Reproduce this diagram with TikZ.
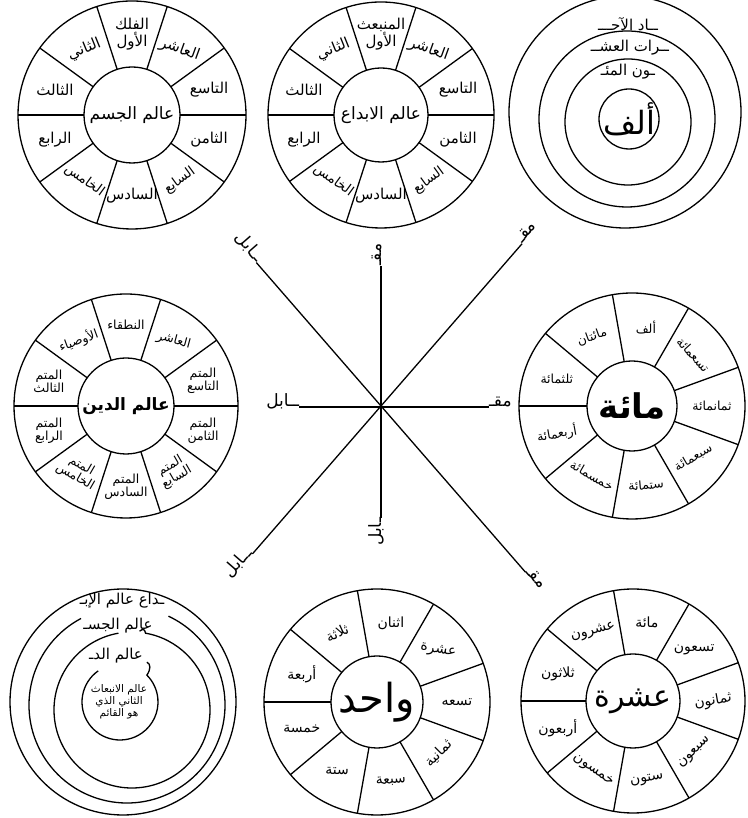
\documentclass[tikz,border=0pt]{standalone}
\usepackage{fontspec}
\newfontfamily\arabicfont[Script=Arabic]{DejaVu Sans}
\TeXXeTstate=1
\usetikzlibrary{calc}
\newcommand{\arb}[1]{{\arabicfont\beginR #1\endR}}
\begin{document}
\begin{tikzpicture}[x=1pt,y=1pt,line width=1.3pt,
  every node/.style={inner sep=0pt,outer sep=0pt},
  disc/.style={circle,draw,line width=1.3pt,minimum size=#1},
  lab/.style={font=\fontsize{15}{17}\selectfont,align=center},
  labn/.style={font=\fontsize{14}{16}\selectfont,align=center},
  lab2/.style={font=\fontsize{12.5}{13}\selectfont,align=center},
  hubtext/.style={font=\fontsize{#1}{#1}\selectfont},
  crosslab/.style={font=\fontsize{17}{17}\selectfont}]
\useasboundingbox (0,0) rectangle (747,818);
\fill[white] (0,0) rectangle (747,818);

% ---------- top-left wheel: alam al-jism
\node[disc=228pt] (w1o) at (132,703) {};
\node[disc=96pt] (w1) at (132,703) {};
\node[hubtext=17] (w1t) at (w1) {\arb{عالم الجسم}};
\foreach \a in {0,36,...,324} \draw (w1.\a) -- (w1o.\a);
\foreach \a/\r/\s/\t in {90/0/15/{\arb{الفلك}\\\arb{الأول}},54/-20/15/{\arb{العاشر}},18/0/15/{\arb{التاسع}},-18/0/15/{\arb{الثامن}},-54/36/13.5/{\arb{السابع}},-90/0/15/{\arb{السادس}},-126/-36/13.5/{\arb{الخامس}},-162/0/15/{\arb{الرابع}},162/0/15/{\arb{الثالث}},126/22/15/{\arb{الثاني}}}
  \node[align=center,font=\fontsize{\s}{17}\selectfont,rotate=\r] (w1l\a) at ($(w1)+(\a:81)$) {\t};

% ---------- top-middle wheel: alam al-ibda
\node[disc=226pt] (w2o) at (381,703) {};
\node[disc=94pt] (w2) at (381,703) {};
\node[hubtext=17] (w2t) at (w2) {\arb{عالم الابداع}};
\foreach \a in {0,36,...,324} \draw (w2.\a) -- (w2o.\a);
\foreach \a/\r/\s/\t in {90/0/15/{\arb{المنبعث}\\\arb{الأول}},54/-20/15/{\arb{العاشر}},18/0/15/{\arb{التاسع}},-18/0/15/{\arb{الثامن}},-54/36/13.5/{\arb{السابع}},-90/0/15/{\arb{السادس}},-126/-36/13.5/{\arb{الخامس}},-162/0/15/{\arb{الرابع}},162/0/15/{\arb{الثالث}},126/22/15/{\arb{الثاني}}}
  \node[align=center,font=\fontsize{\s}{17}\selectfont,rotate=\r] (w2l\a) at ($(w2)+(\a:81)$) {\t};

% ---------- top-right rings
\coordinate (r1) at (625,706);
\coordinate (r2) at (627,699);
\coordinate (r3) at (628,696);
\draw (r1) circle[radius=116];
\draw (r2) circle[radius=88];
\draw (r3) circle[radius=63];
\node[disc=60pt] (alf) at (629,699) {};
\node[hubtext=32] (alft) at (alf) {\arb{ألف}};
\node[lab] (ra1) at (628,794) {\arb{ــاد الآحـــ}};
\node[lab] (ra2) at (630,770) {\arb{ــرات العشــ}};
\node[lab] (ra3) at (628,746) {\arb{ـون المئـ}};

% ---------- middle-left wheel: alam al-din
\node[disc=224pt] (w3o) at (126,412) {};
\node[disc=96pt] (w3) at (126,412) {};
\node[hubtext=17] (w3t) at (w3) {\bfseries\arb{عالم الدين}};
\foreach \a in {0,36,...,324} \draw (w3.\a) -- (w3o.\a);
\foreach \a/\r/\t in {90/0/{\arb{النطقاء}},54/-15/{\arb{العاشر}},18/0/{\arb{المتم}\\\arb{التاسع}},-18/0/{\arb{المتم}\\\arb{الثامن}},-54/30/{\arb{المتم}\\\arb{السابع}},-90/0/{\arb{المتم}\\\arb{السادس}},-126/-30/{\arb{المتم}\\\arb{الخامس}},-162/0/{\arb{المتم}\\\arb{الرابع}},162/0/{\arb{المتم}\\\arb{الثالث}},126/20/{\arb{الأوصياء}}}
  \node[lab2,rotate=\r] (w3l\a) at ($(w3)+(\a:81)$) {\t};

% ---------- middle-right wheel: mi'a
\node[disc=226pt] (w4o) at (632,412) {};
\node[disc=90pt] (w4) at (632,412) {};
\node[hubtext=34] (w4t) at (w4) {\bfseries\arb{مائة}};
\foreach \a in {20,60,...,340} \draw (w4.\a) -- (w4o.\a);
\foreach \a/\r/\t in {80/0/{\arb{ألف}},40/-48/{\arb{تسعمائة}},0/0/{\arb{ثمانمائة}},-40/30/{\arb{سبعمائة}},-80/5/{\arb{ستمائة}},-120/-30/{\arb{خمسمائة}},-160/10/{\arb{أربعمائة}},160/0/{\arb{ثلثمائة}},120/20/{\arb{مائتان}}}
  \node[lab2,rotate=\r] (w4l\a) at ($(w4)+(\a:80)$) {\t};

% ---------- bottom-left rings
\coordinate (b1) at (123,116);
\coordinate (b2) at (127,113);
\coordinate (b3) at (132,108);
\coordinate (b4) at (120,116);
\draw (b1) circle[radius=113];
\draw ($(b2)+(118:98)$) arc[start angle=118,end angle=425,radius=98];
\draw ($(b3)+(100:78)$) arc[start angle=100,end angle=440,radius=78]
   .. controls +(-1,4) and +(4,3) .. ++(-6,2);
\draw ($(b4)+(125:38)$) arc[start angle=125,end angle=405,radius=38]
   .. controls +(4,6) and +(4,-2) .. ++(0,13);
\node[lab] (bt1) at (122,217) {\arb{ـداع عالم الإبـ}};
\node[lab] (bt2) at (118,192) {\arb{عالم الجسـ}};
\node[lab] (bt3) at (116,162) {\arb{عالم الدـ}};
\node[font=\fontsize{10.5}{12}\selectfont,align=center] (bt4) at (119,116) {\arb{عالم الانبعاث}\\\arb{الثاني الذي}\\\arb{هو القائم}};

% ---------- bottom-middle wheel: wahid
\node[disc=226pt] (w5o) at (377,116) {};
\node[disc=92pt] (w5) at (377,116) {};
\node[hubtext=40] (w5t) at (w5) {\arb{واحد}};
\foreach \a in {20,60,...,340} \draw (w5.\a) -- (w5o.\a);
\foreach \a/\r/\t in {80/0/{\arb{اثنان}},40/-10/{\arb{عشرة}},0/0/{\arb{تسعه}},-40/45/{\arb{ثمانية}},-80/5/{\arb{سبعة}},-120/0/{\arb{ستة}},-160/0/{\arb{خمسة}},160/0/{\arb{أربعة}},120/25/{\arb{ثلاثة}}}
  \node[labn,rotate=\r] (w5l\a) at ($(w5)+(\a:80)$) {\t};

% ---------- bottom-right wheel: ashara
\node[disc=224pt] (w6o) at (633,117) {};
\node[disc=94pt] (w6) at (633,117) {};
\node[hubtext=30] (w6t) at (w6) {\arb{عشرة}};
\foreach \a in {20,60,...,340} \draw (w6.\a) -- (w6o.\a);
\foreach \a/\r/\t in {80/0/{\arb{مائة}},40/0/{\arb{تسعون}},0/10/{\arb{ثمانون}},-40/45/{\arb{سبعون}},-80/10/{\arb{ستون}},-120/-35/{\arb{خمسون}},-160/0/{\arb{أربعون}},160/0/{\arb{ثلاثون}},120/15/{\arb{عشرون}}}
  \node[labn,rotate=\r] (w6l\a) at ($(w6)+(\a:80)$) {\t};

% ---------- central cross (muqabil)
\coordinate (O) at (381,412);
\node[crosslab,anchor=base east] (hL) at ($(O)+(-82,-1)$) {\arb{ــابل}};
\node[crosslab,anchor=base west] (hR) at ($(O)+(108,-1)$) {\arb{مقـ}};
\draw (hL.base east) -- (hR.base west);
\node[crosslab,rotate=49,anchor=base west] (dR) at ($(O)+(49:215)$) {\arb{مقـ}};
\node[crosslab,rotate=49,anchor=base east] (dL) at ($(O)+(229:196)$) {\arb{ــابل}};
\draw (dL.base east) -- (dR.base west);
\node[crosslab,rotate=-49,anchor=base west] (eR) at ($(O)+(-49:220)$) {\arb{مقـ}};
\node[crosslab,rotate=-49,anchor=base east] (eL) at ($(O)+(131:190)$) {\arb{ــابل}};
\draw (eL.base east) -- (eR.base west);
\node[crosslab,rotate=90,anchor=base west] (vT) at ($(O)+(90:140)$) {\arb{مقـ}};
\node[crosslab,rotate=90,anchor=base east] (vB) at ($(O)+(270:112)$) {\arb{ـابل}};
\draw (vB.base east) -- (vT.base west);
\end{tikzpicture}
\end{document}
